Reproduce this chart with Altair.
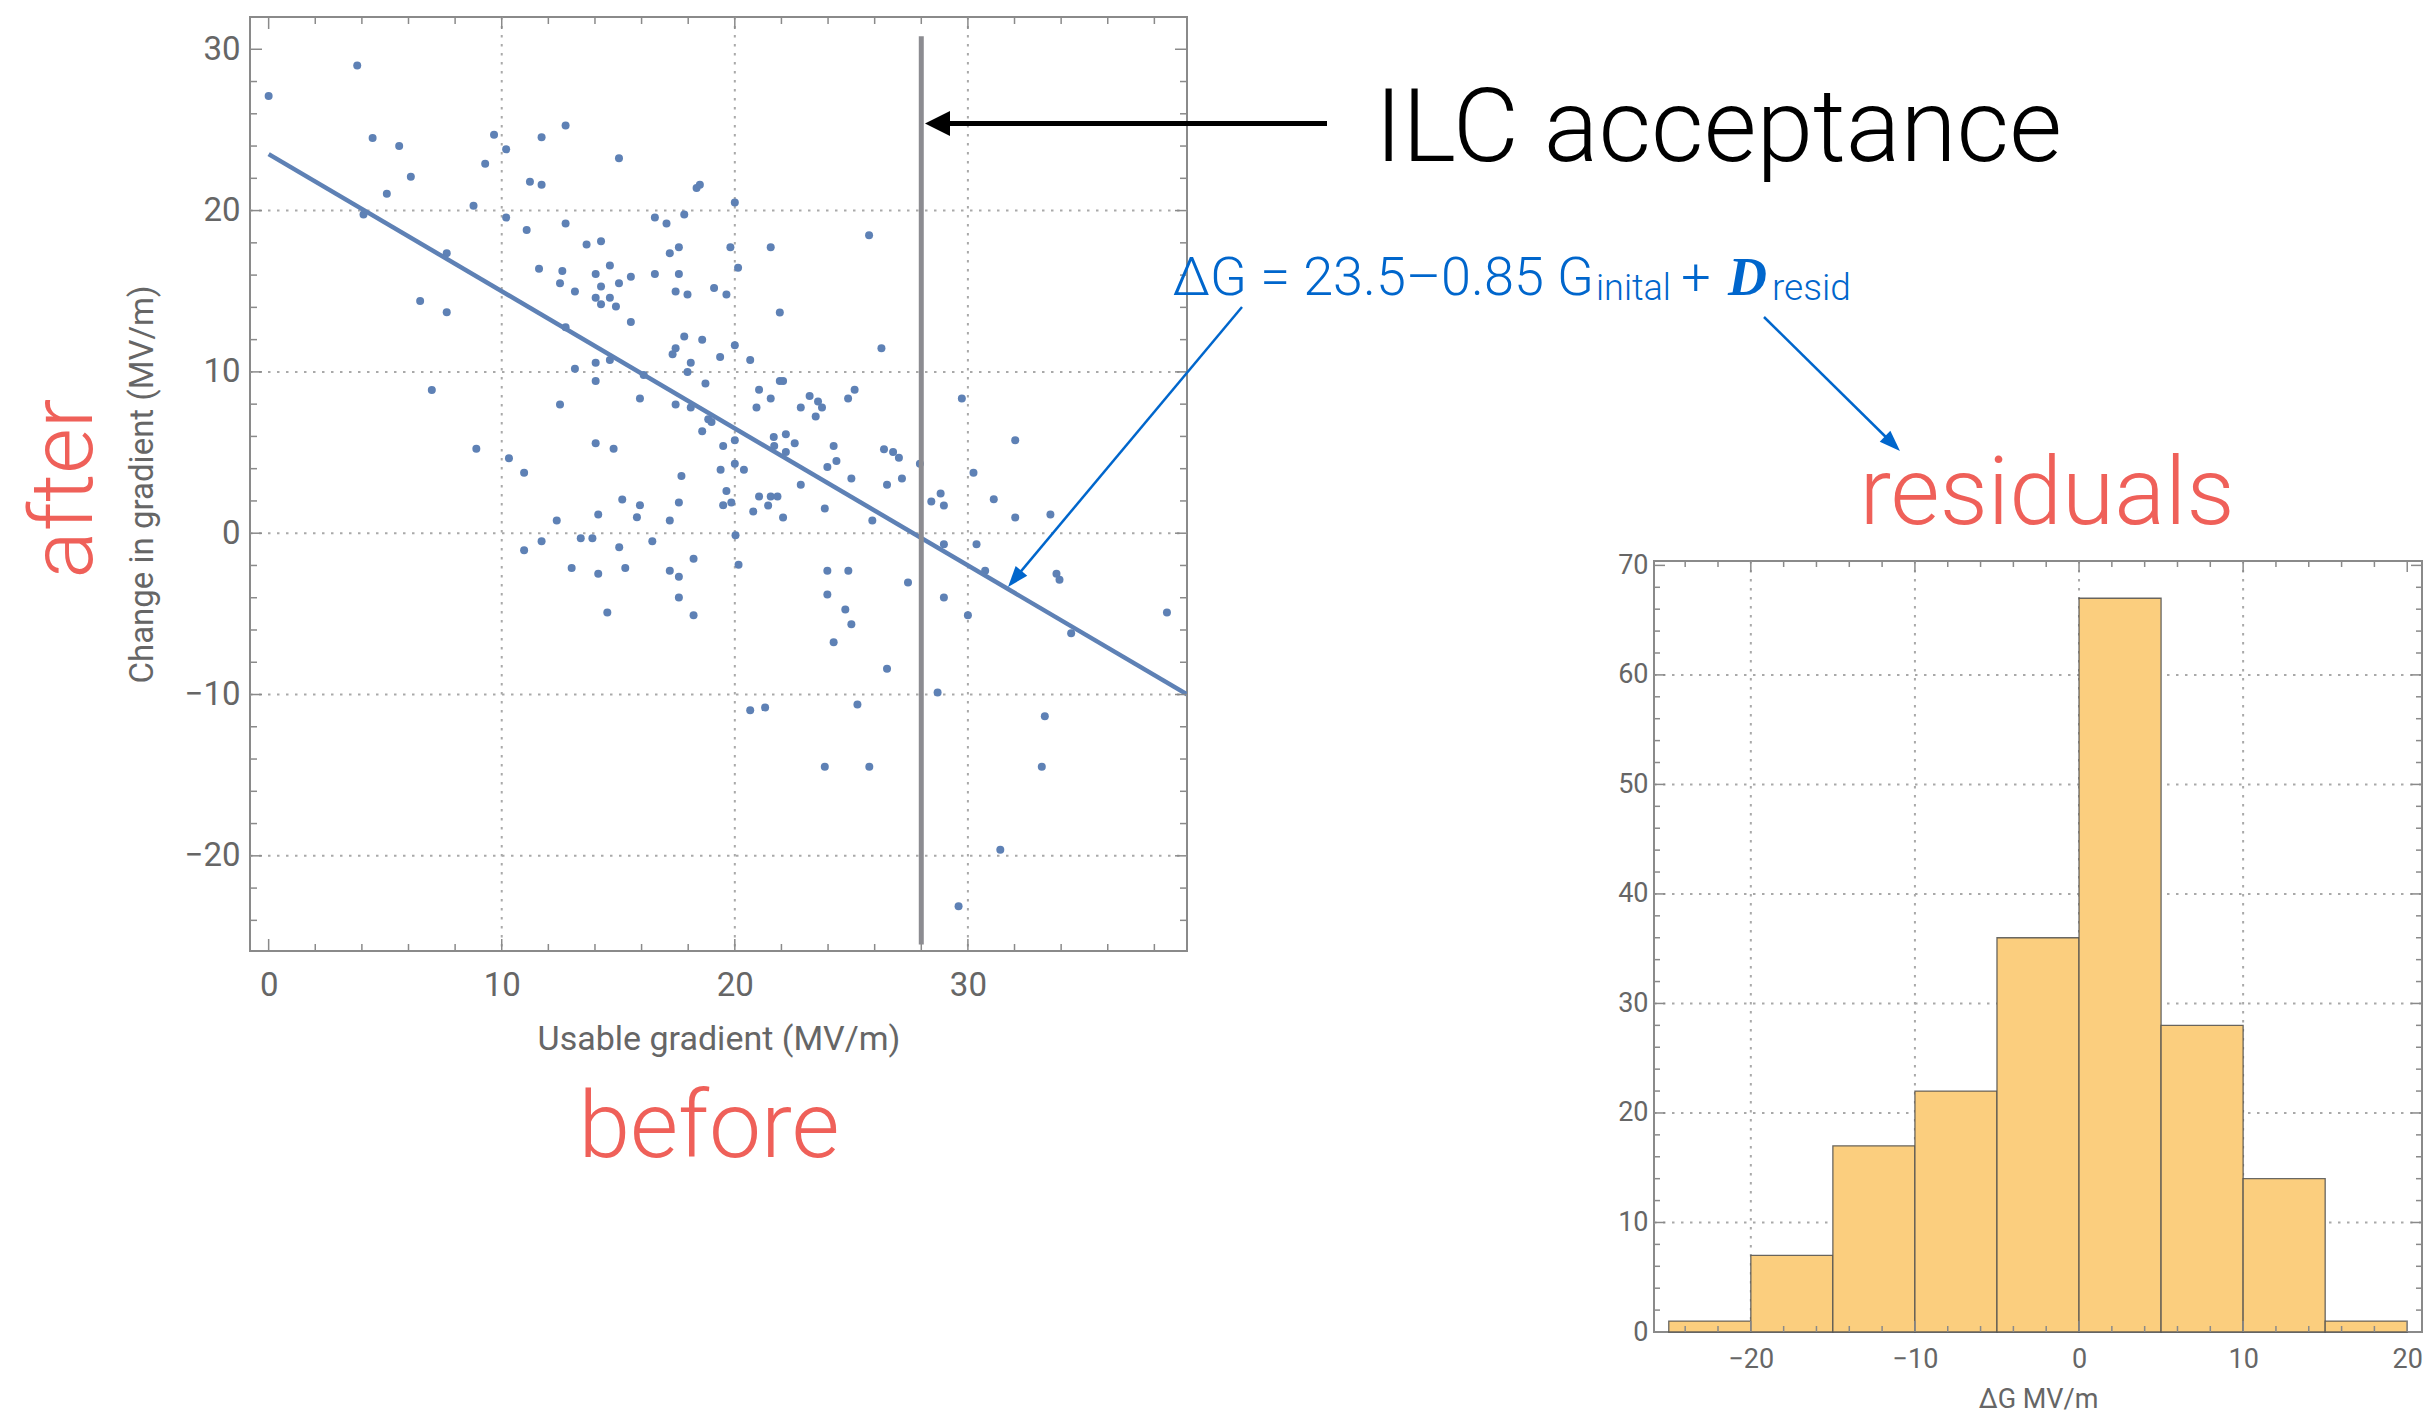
import altair as alt
import pandas as pd

# ---------------- scatter: usable gradient (before) vs change in gradient (after) ----------------
usable_gradient = [
    0, 3.8, 4.46, 5.6, 6.1, 5.07, 4.07, 7.64, 8.79, 9.67,
    9.29, 10.19, 10.19, 11.71, 12.74, 11.21, 11.71, 15.03, 18.36, 18.5,
    16.57, 17.07, 17.83, 12.74, 11.07, 13.64, 14.26, 17.21, 17.6, 19.81,
    14.64, 14.03, 16.57, 17.6, 15.54, 11.6, 12.6, 12.5, 14.26, 15.03,
    13.14, 14.03, 14.64, 14.26, 14.9, 17.46, 17.97, 19.11, 19.64, 15.54,
    12.74, 6.5, 7.64, 17.83, 18.6, 17.46, 17.33, 19.37, 14.03, 14.64,
    13.14, 17.97, 18.11, 14.03, 18.74, 16.09, 7.0, 12.5, 15.93, 17.46,
    18.11, 18.86, 19.0, 18.6, 19.5, 8.91, 14.03, 14.8,
    20.0, 21.54, 20.14, 25.76, 21.93, 20.0, 20.66, 26.29, 21.04, 21.54,
    21.93, 22.07, 23.21, 23.57, 23.74, 23.47, 22.83, 20.93, 24.86, 25.14,
    29.74, 20.0, 21.67, 22.19, 21.69, 22.19, 22.57, 24.24, 26.4, 26.79, 32.03,
    27.04, 23.97, 24.36, 25.0, 27.94, 20.0, 20.39, 22.83, 26.53, 27.17,
    30.24, 28.83, 28.43, 31.11, 21.04, 21.54, 21.83, 19.85, 21.43, 20.79,
    22.07, 23.86, 25.9, 28.97, 32.03, 33.54, 20.03, 28.97, 30.37, 20.16,
    30.74, 23.97, 24.87, 27.43, 33.8, 33.93, 23.97, 28.97, 24.74, 25.0,
    30.0, 38.54, 34.43, 24.24, 26.53, 28.7, 20.66, 21.3, 25.26, 33.3,
    23.86, 25.77, 33.17, 31.39, 29.6,
    10.31, 10.96, 19.39, 19.64, 17.71, 19.5, 15.17, 15.93, 17.6, 14.14,
    12.36, 15.8, 17.21, 13.39, 13.89, 11.71, 10.96, 16.46, 15.04, 13.0,
    14.14, 15.3, 17.21, 17.6, 18.23, 17.6, 14.53, 18.23,
]
gradient_change = [
    27.1, 29.0, 24.5, 24.0, 22.1, 21.05, 19.75, 17.36, 20.3, 24.7,
    22.9, 23.8, 19.57, 24.55, 25.27, 21.78, 21.6, 23.24, 21.4, 21.6,
    19.57, 19.2, 19.75, 19.2, 18.8, 17.9, 18.1, 17.36, 17.72, 17.72,
    16.6, 16.07, 16.07, 16.07, 15.9, 16.4, 16.26, 15.5, 15.3, 15.5,
    14.98, 14.6, 14.6, 14.2, 14.05, 14.98, 14.8, 15.2, 14.8, 13.1,
    12.77, 14.4, 13.7, 12.2, 12.0, 11.47, 11.1, 10.93, 10.56, 10.74,
    10.19, 10.0, 10.56, 9.44, 9.28, 9.8, 8.88, 7.98, 8.35, 7.98,
    7.79, 7.07, 6.9, 6.32, 5.41, 5.23, 5.58, 5.23,
    20.5, 17.73, 16.45, 18.47, 13.68, 11.65, 10.74, 11.47, 8.9, 8.35,
    9.44, 9.44, 8.51, 8.16, 7.79, 7.23, 7.79, 7.79, 8.35, 8.9,
    8.35, 5.76, 5.97, 6.14, 5.41, 5.04, 5.58, 5.41, 5.21, 5.04, 5.76,
    4.67, 4.11, 4.48, 3.39, 4.3, 4.3, 3.93, 3.0, 3.0, 3.39,
    3.74, 2.46, 1.96, 2.1, 2.27, 2.27, 2.27, 1.9, 1.71, 1.34,
    0.97, 1.53, 0.79, 1.71, 0.97, 1.16, -0.12, -0.68, -0.68, -1.96,
    -2.33, -2.33, -2.33, -3.06, -2.52, -2.89, -3.8, -3.99, -4.73, -5.64,
    -5.08, -4.92, -6.2, -6.76, -8.41, -9.88, -10.97, -10.8, -10.62, -11.34,
    -14.48, -14.48, -14.48, -19.63, -23.12,
    4.65, 3.74, 3.93, 2.62, 3.55, 1.74, 2.09, 1.74, 1.9, 1.16,
    0.79, 0.99, 0.79, -0.31, -0.31, -0.5, -1.05, -0.5, -0.87, -2.15,
    -2.52, -2.15, -2.33, -2.7, -1.59, -3.99, -4.92, -5.08,
]

# linear fit  dG = 23.5 - 0.85 G_initial
FIT_INTERCEPT = 23.5
FIT_SLOPE = -0.85

# ILC acceptance threshold (MV/m) and the extent of its marker line
ILC_ACCEPTANCE = 28.0
ACCEPT_SPAN = [-25.5, 30.8]

# ---------------- histogram of residuals ----------------
residual_bin_start = [-25, -20, -15, -10, -5, 0, 5, 10, 15]
residual_counts = [1, 7, 17, 22, 36, 67, 28, 14, 1]
BIN_WIDTH = 5

# ---------------- axes ----------------
SC_X_DOMAIN = [-0.8, 39.4]
SC_Y_DOMAIN = [-25.9, 32.0]
sc_x_labels = [0, 10, 20, 30]
sc_x_grid = [10, 20, 30]
sc_x_minor = [2, 4, 6, 8, 12, 14, 16, 18, 22, 24, 26, 28, 32, 34, 36, 38]
sc_y_labels = [-20, -10, 0, 10, 20, 30]
sc_y_grid = [-20, -10, 0, 10, 20]
sc_y_minor = [-24, -22, -18, -16, -14, -12, -8, -6, -4, -2,
              2, 4, 6, 8, 12, 14, 16, 18, 22, 24, 26, 28]

H_X_DOMAIN = [-25.9, 20.9]
H_Y_DOMAIN = [0, 70.4]
h_x_labels = [-20, -10, 0, 10, 20]
h_x_grid = [-20, -10, 0, 10]
h_x_minor = [-24, -22, -18, -16, -14, -12, -8, -6, -4, -2, 2, 4, 6, 8, 12, 14, 16, 18]
h_y_labels = [0, 10, 20, 30, 40, 50, 60, 70]
h_y_grid = [10, 20, 30, 40, 50, 60]
h_y_minor = [v for v in range(2, 70, 2) if v % 10]

# ---------------- layout & style ----------------
SC_W, SC_H = 937, 934
H_W, H_H = 768, 771
GAP = 467
SPACER_H = 544

MMA_BLUE = "#5E81B5"
FRAME = "#8a8a8a"
GRID = "#a9a9a9"
TEXT_GRAY = "#666666"
RED = "#EF6059"
NOTE_BLUE = "#0066CC"
ACCEPT_GRAY = "#8C8C91"
BAR_FILL = "#FBCE7E"
FONT = "Roboto"
ARROW_WIDE = "M0,0L0.5,1L-0.5,1Z"
ARROW_THIN = "M0,0L0.36,1L-0.36,1Z"


def one(text=""):
    return pd.DataFrame({"t": [text]})


def frame_ticks(values, field, scale, channel, w, h, length):
    """Inward-pointing frame ticks on both opposite sides of a panel."""
    base = alt.Chart(pd.DataFrame({field: values})).mark_rule(color=FRAME, strokeWidth=1.5)
    if channel == "x":
        enc = alt.X(f"{field}:Q", scale=scale)
        return [base.encode(x=enc, y=alt.value(h), y2=alt.value(h - length)),
                base.encode(x=enc, y=alt.value(0), y2=alt.value(length))]
    enc = alt.Y(f"{field}:Q", scale=scale)
    return [base.encode(y=enc, x=alt.value(0), x2=alt.value(length)),
            base.encode(y=enc, x=alt.value(w), x2=alt.value(w - length))]


def grid_lines(values, field, scale, channel, w, h):
    base = alt.Chart(pd.DataFrame({field: values})).mark_rule(
        color=GRID, strokeWidth=2, strokeDash=[2.5, 6.5])
    if channel == "x":
        return base.encode(x=alt.X(f"{field}:Q", scale=scale), y=alt.value(0), y2=alt.value(h))
    return base.encode(y=alt.Y(f"{field}:Q", scale=scale), x=alt.value(0), x2=alt.value(w))


def label(text, x, y, size, color, **kw):
    return alt.Chart(one(text)).mark_text(
        font=FONT, fontSize=size, color=color, baseline="alphabetic", **kw
    ).encode(text="t:N", x=alt.value(x), y=alt.value(y))


def segment(x1, y1, x2, y2, color, width):
    return alt.Chart(one()).mark_rule(color=color, strokeWidth=width).encode(
        x=alt.value(x1), y=alt.value(y1), x2=alt.value(x2), y2=alt.value(y2))


def head(x, y, angle, path, size, color):
    return alt.Chart(one()).mark_point(
        shape=path, size=size, angle=angle, filled=True, fill=color, opacity=1, strokeWidth=0
    ).encode(x=alt.value(x), y=alt.value(y))


# ---------------- scatter panel ----------------
xs = alt.Scale(domain=SC_X_DOMAIN, nice=False, zero=False)
ys = alt.Scale(domain=SC_Y_DOMAIN, nice=False, zero=False)

pts = pd.DataFrame({"gx": usable_gradient, "dy": gradient_change})
points = alt.Chart(pts).mark_circle(size=64, color=MMA_BLUE, opacity=1).encode(
    x=alt.X("gx:Q", scale=xs, axis=alt.Axis(
        values=sc_x_labels, format="d", title="Usable gradient (MV/m)",
        labelFontSize=33, titleFontSize=34, labelPadding=18, titlePadding=20)),
    y=alt.Y("dy:Q", scale=ys, axis=alt.Axis(
        values=sc_y_labels, format="d", title="Change in gradient (MV/m)",
        labelFontSize=33, titleFontSize=33, labelPadding=10, titlePadding=25)),
)

fit_x = [0, SC_X_DOMAIN[1]]
fit_df = pd.DataFrame({"gx": fit_x, "dy": [FIT_INTERCEPT + FIT_SLOPE * g for g in fit_x]})
fit_line = alt.Chart(fit_df).mark_line(color=MMA_BLUE, strokeWidth=4.5, clip=True).encode(
    x=alt.X("gx:Q", scale=xs), y=alt.Y("dy:Q", scale=ys))

accept_df = pd.DataFrame({"gx": [ILC_ACCEPTANCE], "dy": [ACCEPT_SPAN[0]], "dy2": [ACCEPT_SPAN[1]]})
accept_line = alt.Chart(accept_df).mark_rule(color=ACCEPT_GRAY, strokeWidth=5).encode(
    x=alt.X("gx:Q", scale=xs), y=alt.Y("dy:Q", scale=ys), y2="dy2:Q")

# white anchor at the page's top-left corner
anchor = segment(-248, -15, -247, -15, "white", 0.5)

scatter_layers = [
    anchor,
    grid_lines(sc_x_grid, "gx", xs, "x", SC_W, SC_H),
    grid_lines(sc_y_grid, "dy", ys, "y", SC_W, SC_H),
    points,
    fit_line,
    accept_line,
    *frame_ticks(sc_x_labels, "gx", xs, "x", SC_W, SC_H, 12),
    *frame_ticks(sc_x_minor, "gx", xs, "x", SC_W, SC_H, 7),
    *frame_ticks(sc_y_labels, "dy", ys, "y", SC_W, SC_H, 12),
    *frame_ticks(sc_y_minor, "dy", ys, "y", SC_W, SC_H, 7),
    # before / after captions
    label("after", -158, 471.5, 88, RED, angle=270, align="center", fontWeight=300),
    label("before", 459, 1140, 93, RED, align="center", fontWeight=300),
    # ILC acceptance callout
    label("ILC acceptance", 1125, 144, 102, "black", align="left", fontWeight=300),
    segment(1077, 106.5, 695, 106.5, "black", 5),
    head(675, 106.5, 270, ARROW_WIDE, 2500, "black"),
    # fit equation
    label("\u0394G = 23.5\u20130.85 G", 1344, 278, 54, NOTE_BLUE, align="right", fontWeight=300),
    label("inital", 1346, 283, 36, NOTE_BLUE, align="left", fontWeight=300),
    label("+", 1446, 278, 52, NOTE_BLUE, align="center", fontWeight=300),
    alt.Chart(one("D")).mark_text(
        font="Liberation Serif", fontSize=54, fontWeight="bold", fontStyle="italic",
        color=NOTE_BLUE, align="left", baseline="alphabetic",
    ).encode(text="t:N", x=alt.value(1478), y=alt.value(278)),
    label("resid", 1522, 283, 37, NOTE_BLUE, align="left", fontWeight=300),
    segment(992, 290, 762, 565, NOTE_BLUE, 2.5),
    head(758, 570, 219.9, ARROW_THIN, 1764, NOTE_BLUE),
    segment(1514, 300, 1646, 430, NOTE_BLUE, 2.5),
    head(1650, 434, 134.6, ARROW_THIN, 1764, NOTE_BLUE),
]
scatter = alt.layer(*scatter_layers).properties(width=SC_W, height=SC_H)

# ---------------- residual histogram panel ----------------
hxs = alt.Scale(domain=H_X_DOMAIN, nice=False, zero=False)
hys = alt.Scale(domain=H_Y_DOMAIN, nice=False, zero=False)

hist_df = pd.DataFrame({
    "res": residual_bin_start,
    "res_end": [b + BIN_WIDTH for b in residual_bin_start],
    "count": residual_counts,
})
bars = alt.Chart(hist_df).mark_rect(
    fill=BAR_FILL, stroke="#4f4f4f", strokeWidth=1.3, strokeOpacity=0.85
).encode(
    x=alt.X("res:Q", scale=hxs, axis=alt.Axis(
        values=h_x_labels, format="d", title="\u0394G MV/m",
        labelFontSize=27, titleFontSize=27, labelPadding=14, titlePadding=14)),
    x2="res_end:Q",
    y=alt.Y("count:Q", scale=hys, axis=alt.Axis(
        values=h_y_labels, format="d", title="",
        labelFontSize=27, labelPadding=6)),
    y2=alt.datum(0),
)

hist = alt.layer(
    grid_lines(h_x_grid, "res", hxs, "x", H_W, H_H),
    grid_lines(h_y_grid, "count", hys, "y", H_W, H_H),
    bars,
    *frame_ticks(h_x_labels, "res", hxs, "x", H_W, H_H, 11),
    *frame_ticks(h_x_minor, "res", hxs, "x", H_W, H_H, 6),
    *frame_ticks(h_y_labels, "count", hys, "y", H_W, H_H, 11),
    *frame_ticks(h_y_minor, "count", hys, "y", H_W, H_H, 6),
).properties(width=H_W, height=H_H)

spacer = label("residuals", 393, 507, 95, RED, align="center", fontWeight=300).properties(
    width=H_W, height=SPACER_H, view=alt.ViewBackground(strokeOpacity=0))

right = alt.vconcat(spacer, hist, spacing=0, bounds="flush")

chart = alt.hconcat(scatter, right, spacing=GAP, bounds="flush").properties(
    padding=0, background="white"
).configure_view(
    stroke=FRAME, strokeWidth=2
).configure_axis(
    labelFont=FONT, labelColor=TEXT_GRAY, titleFont=FONT, titleColor=TEXT_GRAY,
    titleFontWeight="normal", ticks=False, tickSize=0, domain=False, grid=False,
)

chart.save("out.html", embed_options={"renderer": "svg", "actions": False})
